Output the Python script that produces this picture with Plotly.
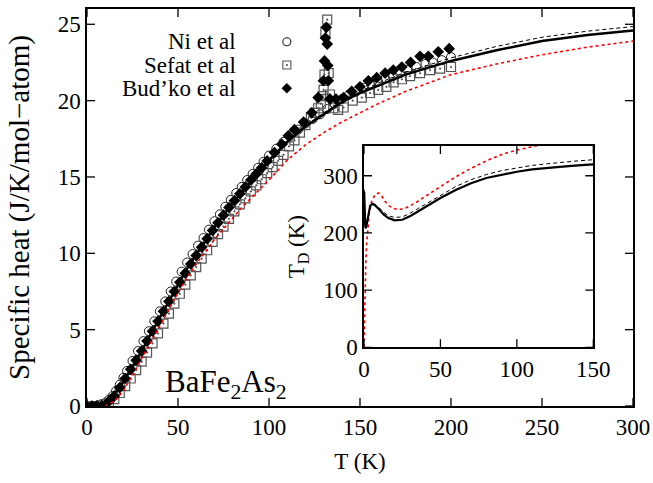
import plotly.graph_objects as go

# ---------------- main panel: specific heat ----------------
T_fit = [0, 5, 10, 15, 20, 25, 30, 35, 40, 45, 50, 55, 60, 65, 70, 75, 80, 85, 90, 95,
         100, 110, 120, 130, 140, 150, 160, 175, 200, 225, 250, 275, 300]
C_solid = [0, 0.02, 0.15, 0.7, 1.6, 2.6, 3.6, 4.7, 5.8, 6.9, 8.0, 9.0, 9.9, 10.8, 11.7, 12.5,
           13.3, 14.0, 14.7, 15.4, 16.1, 17.3, 18.3, 19.1, 19.9, 20.5, 21.0, 21.7, 22.6, 23.3,
           23.9, 24.3, 24.6]
C_dashed = [0, 0.02, 0.15, 0.7, 1.6, 2.6, 3.6, 4.7, 5.8, 6.9, 8.0, 9.0, 9.9, 10.8, 11.7, 12.5,
            13.3, 14.0, 14.7, 15.4, 16.1, 17.3, 18.35, 19.2, 19.95, 20.6, 21.15, 21.85, 22.8,
            23.55, 24.15, 24.55, 24.85]
C_dotted = [0, 0.0, 0.05, 0.3, 1.0, 2.0, 3.1, 4.2, 5.3, 6.4, 7.4, 8.4, 9.3, 10.1, 10.9, 11.6,
            12.3, 13.0, 13.6, 14.2, 14.8, 16.1, 17.1, 17.9, 18.6, 19.2, 19.8, 20.6, 21.7, 22.4,
            23.0, 23.5, 23.9]

T_ni = [2, 4, 6, 8, 10, 12, 14, 16, 18, 20, 22, 25, 28, 31, 34, 37, 40, 43, 46, 49, 52, 55,
        58, 61, 64, 67, 70, 73, 76, 79, 82, 85, 88, 91, 94, 97, 100, 104, 108, 112, 116, 120,
        124, 128, 132, 136, 140, 144, 148, 152, 156, 160, 164, 168, 172, 176, 181, 186, 190,
        195, 200]
C_ni = [0.0, 0.0, 0.05, 0.12, 0.2, 0.4, 0.65, 1.0, 1.4, 1.85, 2.3, 2.95, 3.6, 4.25, 4.9, 5.55,
        6.2, 6.85, 7.5, 8.15, 8.8, 9.4, 9.95, 10.5, 11.0, 11.55, 12.1, 12.55, 13.05, 13.5,
        13.95, 14.35, 14.8, 15.2, 15.6, 16.0, 16.4, 16.85, 17.3, 17.7, 18.1, 18.5, 18.8, 19.1,
        19.45, 19.8, 20.1, 20.4, 20.6, 20.85, 21.05, 21.25, 21.45, 21.6, 21.8, 22.0, 22.2,
        22.4, 22.5, 22.65, 22.85]

T_sefat = [12, 15, 18, 21, 24, 27, 30, 33, 36, 39, 42, 45, 48, 51, 54, 57, 60, 63, 66, 69,
           72, 75, 78, 81, 84, 87, 90, 93, 96, 99, 102, 105, 108, 111, 114, 117, 120, 123,
           125, 127, 128.5, 129.5, 130, 130.5, 131, 132, 132.8, 133.5, 135.3, 138, 141, 146,
           151, 155.5, 160, 164.5, 168.5, 173, 177.5, 183, 188.5, 194, 200]
C_sefat = [0.2, 0.45, 0.85, 1.3, 1.8, 2.35, 2.9, 3.5, 4.1, 4.75, 5.4, 6.05, 6.7, 7.35, 7.95,
           8.55, 9.1, 9.65, 10.2, 10.75, 11.25, 11.75, 12.25, 12.75, 13.2, 13.6, 14.05, 14.45,
           14.85, 15.25, 15.65, 16.05, 16.45, 17.0, 17.4, 17.9, 18.4, 18.9, 19.2, 19.5, 19.8,
           20.3, 20.7, 21.7, 24.5, 25.3, 21.8, 20.4, 19.5, 19.4, 19.55, 20.0, 20.2, 20.5, 20.7,
           20.9, 21.2, 21.4, 21.6, 21.8, 22.0, 22.1, 22.2]

T_budko = [0, 2.7, 5.4, 8.1, 12, 15, 18, 21, 24, 27, 30, 33, 36, 39, 42, 45, 48, 51, 54, 57,
           60, 63, 66, 69, 72, 75, 78, 81, 84, 87, 90, 93, 96, 99, 103, 107, 110.6, 114, 119,
           123.5, 127, 129.9, 130.5, 131, 131.5, 132, 132.3, 132.6, 133.5, 136.8, 141, 145.4,
           150, 154.6, 159.2, 163.8, 168.3, 173, 177.8, 183, 187.5, 193, 199]
C_budko = [0, 0, 0, 0.02, 0.3, 0.65, 1.2, 1.8, 2.4, 3.0, 3.6, 4.25, 4.9, 5.55, 6.2, 6.85, 7.5,
           8.1, 8.7, 9.3, 9.85, 10.4, 10.95, 11.5, 12.0, 12.5, 13.0, 13.45, 13.9, 14.35, 14.8,
           15.2, 15.6, 16.05, 16.6, 17.15, 17.7, 18.1, 18.6, 19.2, 20.2, 21.3, 22.6, 24.1, 24.8,
           23.7, 22.3, 21.3, 20.1, 20.1, 20.2, 20.6, 20.9, 21.3, 21.5, 21.8, 22.0, 22.2, 22.5,
           22.9, 22.9, 23.2, 23.4]

# ---------------- inset: Debye temperature ----------------
T_ins = [0.15, 0.4, 0.8, 1.3, 2.0, 3.0, 4.0, 5.5, 7, 10, 13, 16, 20, 25, 30, 35, 40, 50, 60,
         70, 80, 90, 100, 110, 120, 130, 140, 150]
TD_solid = [272, 240, 212, 208, 218, 236, 247, 251, 249, 241, 232, 226, 222, 223, 229, 237,
            245, 261, 275, 287, 296, 302, 307, 311, 314, 316, 318, 320]
TD_dashed = [276, 244, 215, 211, 220, 238, 248, 252, 250, 244, 236, 230, 227, 228, 234, 242,
             250, 266, 281, 293, 302, 309, 314, 318, 321, 324, 326, 328]
T_ins_red = [0, 0.3, 0.7, 1.2, 1.7, 2.5, 3.5, 5, 7, 9.5, 11.5, 13.5, 16, 19, 22, 26, 30, 35,
             40, 50, 60, 70, 80, 90, 100, 110, 120, 135, 150]
TD_dotted = [0, 60, 110, 150, 180, 212, 235, 255, 266, 270, 265, 256, 248, 243, 241, 242, 247,
             255, 264, 281, 298, 313, 326, 337, 345, 351, 357, 365, 371]

main_xticks = [0, 50, 100, 150, 200, 250, 300]
main_yticks = [0, 5, 10, 15, 20, 25]
ins_xticks = [0, 50, 100, 150]
ins_yticks = [0, 100, 200, 300]

legend_names = ["Ni et al", "Sefat et al", "Bud\u2019ko et al"]

FONT = "Liberation Serif, Times New Roman, serif"
TICKLEN = 8  # px

# layout geometry
W, H = 653, 483
M_L, M_R, M_T, M_B = 87, 20, 9, 77
MAIN_XR, MAIN_YR = [0, 300], [0, 26]
INS_XR, INS_YR = [0, 150], [0, 352]
INS_XDOM, INS_YDOM = [0.5073, 0.9273], [0.1479, 0.6549]

plot_w = W - M_L - M_R
plot_h = H - M_T - M_B

fig = go.Figure()

# data points
fig.add_trace(go.Scatter(x=T_ni, y=C_ni, mode="markers", name=legend_names[0],
                         marker=dict(symbol="circle-open", size=9, color="#222",
                                     line=dict(width=1, color="#222"))))
fig.add_trace(go.Scatter(x=T_sefat, y=C_sefat, mode="markers", name=legend_names[1],
                         marker=dict(symbol="square-open-dot", size=9, color="#555",
                                     line=dict(width=1.2, color="#555"))))
fig.add_trace(go.Scatter(x=T_budko, y=C_budko, mode="markers", name=legend_names[2],
                         marker=dict(symbol="diamond", size=9, color="black")))
# fit curves
fig.add_trace(go.Scatter(x=T_fit, y=C_dotted, mode="lines",
                         line=dict(color="red", width=1.6, dash="dot")))
fig.add_trace(go.Scatter(x=T_fit, y=C_dashed, mode="lines",
                         line=dict(color="black", width=1, dash="4px,3px")))
fig.add_trace(go.Scatter(x=T_fit, y=C_solid, mode="lines",
                         line=dict(color="black", width=2.5)))

# inset curves
fig.add_trace(go.Scatter(x=T_ins_red, y=TD_dotted, mode="lines", xaxis="x2", yaxis="y2",
                         line=dict(color="red", width=1.6, dash="dot")))
fig.add_trace(go.Scatter(x=T_ins, y=TD_dashed, mode="lines", xaxis="x2", yaxis="y2",
                         line=dict(color="black", width=1, dash="4px,3px")))
fig.add_trace(go.Scatter(x=T_ins, y=TD_solid, mode="lines", xaxis="x2", yaxis="y2",
                         line=dict(color="black", width=2.2)))


# inward tick marks on all four sides, built from the tick value lists
def tick_trace(xt, yt, xr, yr, wpx, hpx, xa, ya):
    lx = TICKLEN * (xr[1] - xr[0]) / wpx
    ly = TICKLEN * (yr[1] - yr[0]) / hpx
    xs, ys = [], []
    for v in xt:
        xs += [v, v, None, v, v, None]
        ys += [yr[0], yr[0] + ly, None, yr[1], yr[1] - ly, None]
    for v in yt:
        xs += [xr[0], xr[0] + lx, None, xr[1], xr[1] - lx, None]
        ys += [v, v, None, v, v, None]
    return go.Scatter(x=xs, y=ys, mode="lines", xaxis=xa, yaxis=ya, hoverinfo="skip",
                      line=dict(color="black", width=1.3))


fig.add_trace(tick_trace(main_xticks, main_yticks, MAIN_XR, MAIN_YR, plot_w, plot_h, "x", "y"))
fig.add_trace(tick_trace(ins_xticks, ins_yticks, INS_XR, INS_YR,
                         plot_w * (INS_XDOM[1] - INS_XDOM[0]),
                         plot_h * (INS_YDOM[1] - INS_YDOM[0]), "x2", "y2"))

# legend: right-aligned text with key symbol to its right (layout shapes in pixels)
key_x = 0.366
key_y = [0.9176, 0.8589, 0.8003]
fig.add_shape(type="circle", xref="paper", yref="paper", xsizemode="pixel", ysizemode="pixel",
              xanchor=key_x, yanchor=key_y[0], x0=-4, x1=4, y0=-4, y1=4,
              line=dict(color="#222", width=1.1), fillcolor="rgba(0,0,0,0)")
fig.add_shape(type="rect", xref="paper", yref="paper", xsizemode="pixel", ysizemode="pixel",
              xanchor=key_x, yanchor=key_y[1], x0=-4, x1=4, y0=-4, y1=4,
              line=dict(color="#555", width=1.1), fillcolor="rgba(0,0,0,0)")
fig.add_shape(type="rect", xref="paper", yref="paper", xsizemode="pixel", ysizemode="pixel",
              xanchor=key_x, yanchor=key_y[1], x0=-0.6, x1=0.6, y0=-0.6, y1=0.6,
              line=dict(color="#555", width=0.8), fillcolor="#555")
fig.add_shape(type="path", xref="paper", yref="paper", xsizemode="pixel", ysizemode="pixel",
              xanchor=key_x, yanchor=key_y[2], path="M 0 5 L 5 0 L 0 -5 L -5 0 Z",
              line=dict(color="black", width=0.5), fillcolor="black")
for name, yy in zip(legend_names, key_y):
    fig.add_annotation(x=0.277, y=yy, xref="paper", yref="paper", text=name,
                       showarrow=False, xanchor="right", yanchor="middle",
                       font=dict(family=FONT, size=23, color="black"))

fig.add_annotation(x=0.139, y=0.055, xref="paper", yref="paper",
                   text="BaFe<sub>2</sub>As<sub>2</sub>", showarrow=False,
                   xanchor="left", yanchor="middle",
                   font=dict(family=FONT, size=31, color="black"))


def axis_style():
    return dict(showgrid=False, zeroline=False, showline=True, linecolor="black",
                linewidth=1.5, mirror=True, ticks="",
                tickfont=dict(family=FONT, size=23, color="black"))


fig.update_layout(
    template="none",
    width=W, height=H,
    margin=dict(l=M_L, r=M_R, t=M_T, b=M_B),
    paper_bgcolor="white", plot_bgcolor="white",
    showlegend=False,
    font=dict(family=FONT, size=23, color="black"),
    xaxis=dict(domain=[0, 1], range=MAIN_XR, tickvals=main_xticks, anchor="y",
               title=dict(text="T (K)", standoff=14, font=dict(family=FONT, size=23)),
               **axis_style()),
    yaxis=dict(domain=[0, 1], range=MAIN_YR, tickvals=main_yticks, anchor="x",
               title=dict(text="Specific heat (J/K/mol\u2212atom)", standoff=20,
                          font=dict(family=FONT, size=29)),
               ticksuffix="\u2009\u2009", **axis_style()),
    xaxis2=dict(domain=INS_XDOM, range=INS_XR, tickvals=ins_xticks, anchor="y2",
                **axis_style()),
    yaxis2=dict(domain=INS_YDOM, range=INS_YR, tickvals=ins_yticks, anchor="x2",
                title=dict(text="T<sub>D</sub> (K)", standoff=12,
                           font=dict(family=FONT, size=23)),
                ticksuffix="\u2009\u2009", **axis_style()),
)

fig.write_html("out.html")
